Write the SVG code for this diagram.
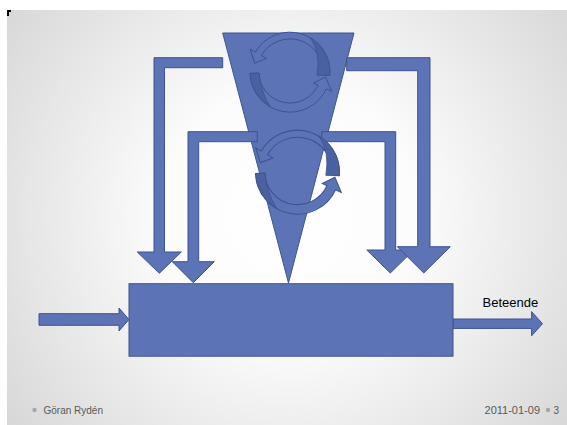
<svg xmlns="http://www.w3.org/2000/svg" width="567" height="425" viewBox="0 0 567 425">
<style>
.sh{fill:#5c74b5;stroke:#3d5391;stroke-width:1;stroke-linejoin:miter}
.dk{fill:#4a60a0;stroke:#3d5391;stroke-width:0.8}
.ft{font-family:"Liberation Sans",Arial,sans-serif;font-size:10px;fill:#595959}
.lb{font-family:"Liberation Sans",Arial,sans-serif;font-size:13px;fill:#000}
.bul{fill:#a6a6a6}
</style>
<defs>
<radialGradient id="bg" gradientUnits="userSpaceOnUse" cx="290" cy="215" r="360">
<stop offset="0" stop-color="#ffffff"/>
<stop offset="0.35" stop-color="#fcfcfc"/>
<stop offset="1" stop-color="#d6d6d6"/>
</radialGradient>
<g id="circArrow">
<path class="sh" d="M39.8 3.5 A40 40 0 0 0 -34.6 -20 L-39.8 -23 L-35.4 -8.8 L-23.4 -13.5 L-28.6 -16.5 A33 33 0 0 1 32.9 2.9 Z"/>
<path class="dk" d="M39.8 3.5 A40 40 0 0 0 20 -34.6 Q31 -20 27 3.2 Z"/>
<path class="sh" d="M-31 1.1 L-40 1.4 A40 40 0 0 0 36.3 16.9 L41.7 19.4 L35.6 5 L23.6 11 L28.1 13.1 A31 31 0 0 1 -31 1.1 Z"/>
<path class="dk" d="M-31 1.1 L-40 1.4 A40 40 0 0 0 -20 34.6 Q-29 20 -31 1.1 Z"/>
</g>
</defs>
<rect x="0" y="0" width="567" height="425" fill="#ffffff"/>
<rect x="7" y="10" width="560" height="415" fill="url(#bg)"/>
<path d="M7 10 H11 V12 H9 V16 H7 Z" fill="#000"/>

<g id="triangle">
<path class="sh" d="M222.7 33 L354 33 L288.5 283 Z"/>
</g>

<g id="connectors">
<path class="sh" d="M222.7 57.7 L154 57.7 L154 252 L137.3 252 L159.3 273.3 L181.3 252 L164.5 252 L164.5 67.7 L222.7 67.7 Z"/>
<path class="sh" d="M257.3 131.7 L188 131.7 L188 261.7 L172.3 261.7 L193.3 282.7 L214.3 261.7 L198.7 261.7 L198.7 141.7 L257.3 141.7 Z"/>
<path class="sh" d="M321.7 131.7 L395.7 131.7 L395.7 250 L413.8 250 L390.3 273 L366.8 250 L385 250 L385 141.7 L321.7 141.7 Z"/>
<path class="sh" d="M346.7 57.7 L430 57.7 L430 246.7 L450.3 246.7 L423.8 273 L397.3 246.7 L417.7 246.7 L417.7 70.7 L346.7 70.7 Z"/>
<path class="sh" d="M39 313.7 L119 313.7 L119 308 L129 319.5 L119 331 L119 325.3 L39 325.3 Z"/>
<path class="sh" d="M453 319 L531.6 319 L531.6 311.6 L542.5 323.7 L531.6 335.8 L531.6 328.4 L453 328.4 Z"/>
</g>

<g id="box">
<rect class="sh" x="129" y="283.7" width="324" height="72.5"/>
</g>

<g id="cycle-top">
<use href="#circArrow" transform="translate(290 72)"/>
</g>
<g id="cycle-bottom">
<use href="#circArrow" transform="translate(297.5 172) scale(1.05)"/>
</g>

<g id="label-output">
<text class="lb" x="482.5" y="307">Beteende</text>
</g>

<g id="footer">
<circle class="bul" cx="34.5" cy="410" r="2.2"/>
<text class="ft" x="43.5" y="413.5">Göran Rydén</text>
<text class="ft" x="540" y="413.5" text-anchor="end" style="font-size:11px">2011-01-09</text>
<circle class="bul" cx="548" cy="410" r="2.2"/>
<text class="ft" x="553.5" y="413.5">3</text>
</g>
</svg>
